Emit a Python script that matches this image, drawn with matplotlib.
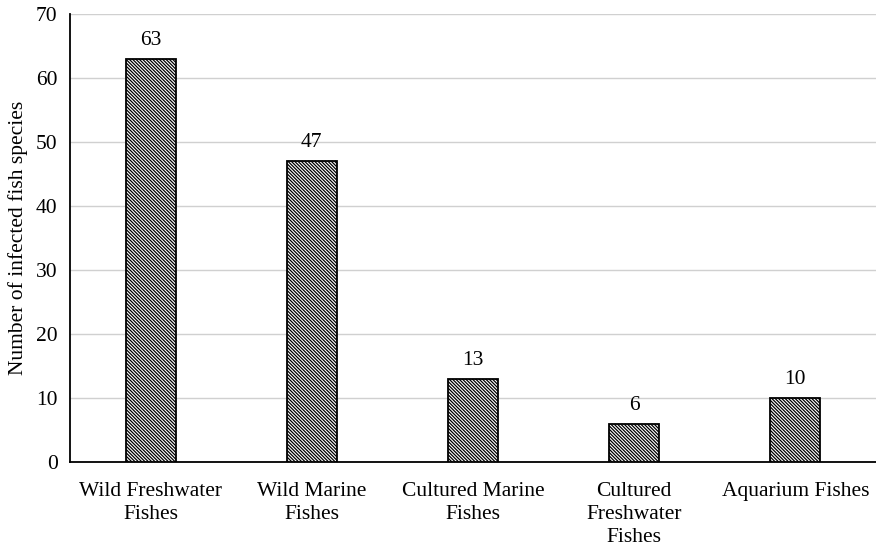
import matplotlib.pyplot as plt

categories = ["Wild Freshwater\nFishes", "Wild Marine\nFishes", "Cultured Marine\nFishes",
              "Cultured\nFreshwater\nFishes", "Aquarium Fishes"]
counts = [63, 47, 13, 6, 10]

plt.rcParams['font.family'] = ['Liberation Serif', 'DejaVu Serif']
plt.rcParams['hatch.linewidth'] = 0.9

fig = plt.figure(figsize=(8.76, 5.55), dpi=100)
ax = fig.add_axes([0.08, 0.167, 0.92, 0.808])

fs = 15.5
x = range(len(categories))
bars = ax.bar(x, counts, width=0.31, color='white', edgecolor='black',
              linewidth=1.3, hatch='\\' * 10, zorder=3)
for b, v in zip(bars, counts):
    ax.text(b.get_x() + b.get_width() / 2, v + 1.4, str(v),
            ha='center', va='bottom', fontsize=fs)

ax.set_xlim(-0.5, len(categories) - 0.5)
ax.set_ylim(0, 70)
ax.set_yticks(range(0, 71, 10))
ax.set_xticks(list(x))
ax.set_xticklabels(categories, fontsize=fs, linespacing=1.3)
ax.tick_params(axis='y', labelsize=fs, length=0, pad=9)
ax.tick_params(axis='x', length=0, pad=14)
ax.grid(axis='y', color='#d0d0d0', linewidth=1, zorder=0)
ax.set_ylabel("Number of infected fish species", fontsize=fs, labelpad=6)

for s in ['top', 'right']:
    ax.spines[s].set_visible(False)
ax.spines['left'].set_linewidth(1.3)
ax.spines['bottom'].set_linewidth(1.3)

fig.savefig("out.png", dpi=100)
